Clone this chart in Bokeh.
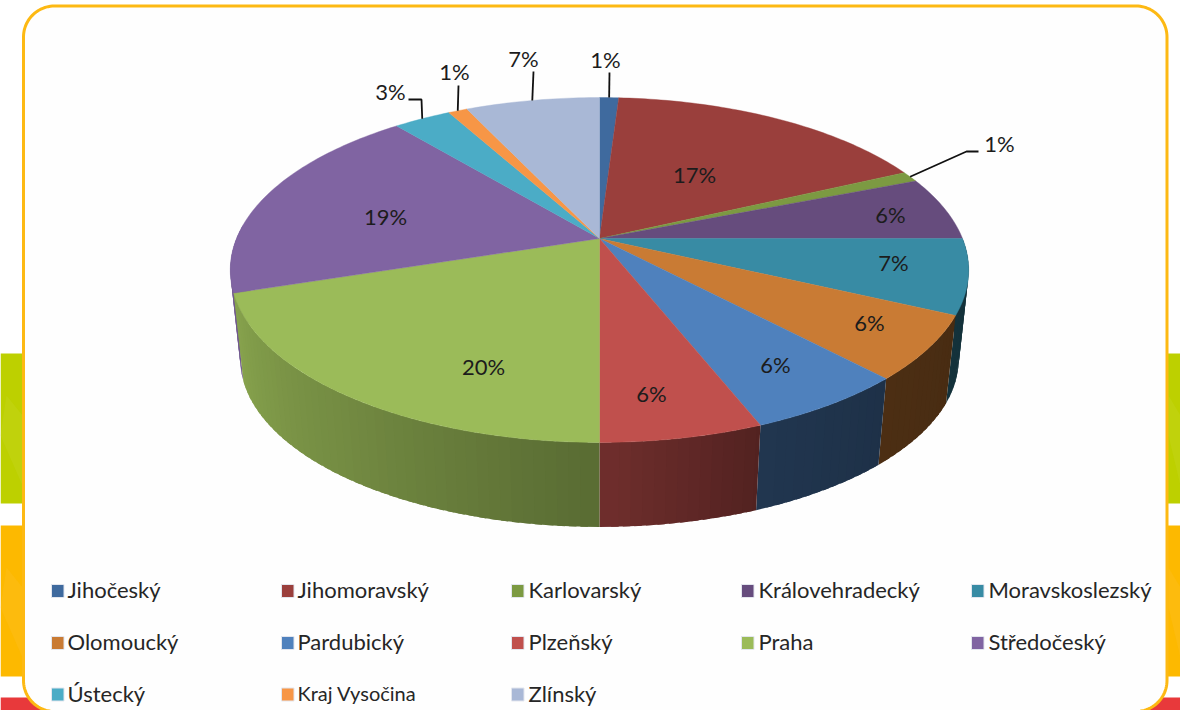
import numpy as np
from bokeh.plotting import figure
from bokeh.embed import file_html
from bokeh.resources import INLINE
from bokeh.core.properties import value

# ---- data ----
regions = ["Jihočeský", "Jihomoravský", "Karlovarský", "Královehradecký", "Moravskoslezský",
           "Olomoucký", "Pardubický", "Plzeňský", "Praha", "Středočeský",
           "Ústecký", "Kraj Vysočina", "Zlínský"]
shares = [1, 17, 1, 6, 7, 6, 6, 6, 20, 19, 3, 1, 7]
colors = ["#3F6A9E", "#9A3F3C", "#7C9A42", "#664C7D", "#388BA4", "#C97B34", "#4F81BD",
          "#C0504D", "#9BBB59", "#8064A2", "#4BACC6", "#F79646", "#A9B8D6"]

# ---- layout (pixel coordinates of the 1180x710 frame) ----
HUB = (599.0, 238.0); RX = 363.0; RY = 166.7; K = 0.1826
BOT_S = 0.973; BOT_HUB_Y = 328.0
SHADE_ANG = [90, 115, 137, 158, 180, 215, 252, 275]
SHADE_VAL = [.36, .36, .38, .42, .58, .74, .88, .90]
FONT = "Lato"


def project(theta, s=1.0, hub_y=HUB[1]):
    t = np.radians(theta)
    x, y = np.sin(t), np.cos(t)
    d = 1 + K * y
    return HUB[0] + s * RX * x / d, hub_y - s * RY * y / d


def scale(c, f):
    r, g, b = [int(c[i:i + 2], 16) for i in (1, 3, 5)]
    return "#%02x%02x%02x" % (int(r * f), int(g * f), int(b * f))


p = figure(width=1180, height=710, x_range=(0, 1180), y_range=(710, 0), output_backend="svg",
           toolbar_location=None, min_border=0, outline_line_color=None,
           background_fill_color="white", border_fill_color="white",
           styles={"margin": "0px"})
p.xaxis.visible = False
p.yaxis.visible = False
p.grid.visible = False

# ---- background bands ----
p.quad(left=0, right=1180, top=[353, 525, 697], bottom=[503, 676, 712],
       color=["#BDD000", "#FDB900", "#E8393B"], line_color=None)
# faint lighter strokes in the bands
for yo, c in ((395, "#C6D722"), (567, "#FDC125")):
    for xs in ((0, 22, 22, 6), (1168, 1180, 1180, 1168)):
        p.patch(list(xs), [yo + 40, yo + 90, yo + 20, yo], color=c, line_color=None, alpha=.35)

# ---- card ----
L, R_, T, B, RAD = 23.0, 1166.5, 5.5, 711.0, 31.0
corners = [(L + RAD, T + RAD, 270, 180), (L + RAD, B - RAD, 180, 90),
           (R_ - RAD, B - RAD, 90, 0), (R_ - RAD, T + RAD, 0, -90)]
cx, cy = [], []
for ox, oy, a0, a1 in corners:
    a = np.radians(np.linspace(a0, a1, 24))
    cx += list(ox + RAD * np.cos(a)); cy += list(oy + RAD * np.sin(a))
p.patch(cx, cy, fill_color="#FEFEFE", line_color="#FDB913", line_width=3)

# ---- pie ----
edges = np.concatenate([[0], np.cumsum(shares)]) / sum(shares) * 360.0

# side wall: thin strips painted from the flanks to the front, each one
# overlapping the strip before it so that no seams show
strips = []
for i, c in enumerate(colors):
    lo, hi = max(edges[i], 90), min(edges[i + 1], 275)
    if hi <= lo:
        continue
    n = max(int((hi - lo) / 1.5), 1)
    th = np.linspace(lo, hi, n + 1)
    for a, b in zip(th[:-1], th[1:]):
        m = (a + b) / 2
        if m < 180:
            a2, b2 = max(a - 1.0, lo), b
        else:
            a2, b2 = a, min(b + 1.0, hi)
        strips.append((abs(m - 180), a2, b2, m, c))
strips.sort(key=lambda s: -s[0])
for _, a, b, m, c in strips:
    col = scale(c, float(np.interp(m, SHADE_ANG, SHADE_VAL)))
    xt0, yt0 = project(a); xt1, yt1 = project(b)
    xb0, yb0 = project(a, BOT_S, BOT_HUB_Y); xb1, yb1 = project(b, BOT_S, BOT_HUB_Y)
    p.patch([xt0, xt1, xb1, xb0], [yt0, yt1, yb1, yb0], fill_color=col, line_color=None)

# top face
for i, c in enumerate(colors):
    th = np.linspace(edges[i], edges[i + 1], max(int(edges[i + 1] - edges[i]) + 2, 3))
    xs, ys = project(th)
    p.patch([HUB[0], *xs], [HUB[1], *ys], fill_color=c, line_color=c, line_width=.4)

# ---- leader lines, from the rim of each small slice ----
mid = (edges[:-1] + edges[1:]) / 2
leaders = {0: [(609, 72)], 2: [(978, 151), (966, 151)], 10: [(408, 99), (421, 99)],
           11: [(458, 85)], 12: [(533, 71)]}
for i, pts in leaders.items():
    ax, ay = project(mid[i])
    xs = [q[0] for q in pts] + [float(ax)]
    ys = [q[1] for q in pts] + [float(ay)]
    p.line(xs, ys, line_color="#111111", line_width=1.8)

# ---- percentage labels ----
lab_x = [605, 694, 999, 890, 893, 869, 775, 651, 483, 385, 390, 454, 523]
lab_y = [58.5, 173.5, 142.5, 213.5, 261.5, 321.5, 363.5, 392.5, 365.5, 215.5, 90.5, 70.5, 57.5]
p.text(lab_x, lab_y, text=[f"{v}%" for v in shares], text_font=value(FONT), text_font_size="22px",
       text_color="#1c1c1c", text_align="center", text_baseline="middle")

# ---- legend ----
col_sq = [51, 281, 511, 741, 971]
col_tx = [67, 297, 528, 758, 988]
row_y = [590.5, 642.5, 694]
for i, (name, c) in enumerate(zip(regions, colors)):
    r, k = divmod(i, 5)
    p.quad(left=col_sq[k], right=col_sq[k] + 12.5, top=row_y[r] - 6.5, bottom=row_y[r] + 6.5,
           fill_color=c, line_color="#E3E6EE", line_width=1)
    p.text([col_tx[k]], [row_y[r] - 1.5], text=[name], text_font=value(FONT),
           text_font_size="20px" if name == "Kraj Vysočina" else "22px",
           text_color="#262626", text_align="left", text_baseline="middle")

open("out.html", "w").write(file_html(p, INLINE))
